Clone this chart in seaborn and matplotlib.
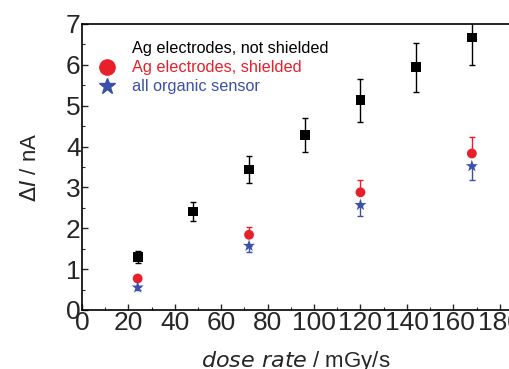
import matplotlib
matplotlib.use("Agg")
import matplotlib.pyplot as plt
import seaborn as sns
import pandas as pd
import numpy as np
from matplotlib.ticker import MultipleLocator
from matplotlib.lines import Line2D

sns.set_style("ticks")
plt.rcParams['font.family'] = ['Liberation Sans', 'DejaVu Sans']

dose_black = [24, 48, 72, 96, 120, 144, 168]
dI_black = [1.30, 2.41, 3.44, 4.28, 5.13, 5.94, 6.67]
err_black = [0.15, 0.24, 0.34, 0.42, 0.52, 0.60, 0.67]

dose_red = [24, 72, 120, 168]
dI_red = [0.77, 1.84, 2.88, 3.83]
err_red = [0.05, 0.18, 0.29, 0.40]

dose_blue = [24, 72, 120, 168]
dI_blue = [0.55, 1.57, 2.57, 3.52]
err_blue = [0.05, 0.16, 0.27, 0.35]

labels = ["Ag electrodes, not shielded", "Ag electrodes, shielded", "all organic sensor"]
c_black, c_red, c_blue = "#000000", "#e8202a", "#3b50a8"

fig = plt.figure(figsize=(5.09, 3.69), dpi=100)
ax = fig.add_axes([0.161, 0.160, 0.839, 0.775])

ax.errorbar(dose_black, dI_black, yerr=err_black, fmt='none', ecolor=c_black,
            elinewidth=1.0, capsize=2.5, capthick=1.0, zorder=2)
ax.errorbar(dose_red, dI_red, yerr=[np.zeros(len(err_red)), err_red], fmt='none',
            ecolor=c_red, elinewidth=1.0, capsize=2.5, capthick=1.0, zorder=2)
ax.errorbar(dose_blue, dI_blue, yerr=[err_blue, np.zeros(len(err_blue))], fmt='none',
            ecolor=c_blue, elinewidth=1.0, capsize=2.5, capthick=1.0, zorder=2)

sns.scatterplot(x=dose_black, y=dI_black, marker="s", color=c_black, s=50,
                edgecolor="none", ax=ax, zorder=3)
sns.scatterplot(x=dose_red, y=dI_red, marker="o", color=c_red, s=50,
                edgecolor="none", ax=ax, zorder=3)
sns.scatterplot(x=dose_blue, y=dI_blue, marker="*", color=c_blue, s=85,
                edgecolor="none", ax=ax, zorder=4)

ax.set_xlim(0, 184)
ax.set_ylim(0, 7)
ax.xaxis.set_major_locator(MultipleLocator(20))
ax.xaxis.set_minor_locator(MultipleLocator(10))
ax.yaxis.set_major_locator(MultipleLocator(1))
ax.yaxis.set_minor_locator(MultipleLocator(0.5))
ax.tick_params(which='both', direction='in', top=False, right=False, labelsize=19, pad=1)
ax.tick_params(which='major', length=4, width=1)
ax.tick_params(which='minor', length=2.5, width=0.8)
for sp in ['left', 'bottom', 'top']:
    ax.spines[sp].set_linewidth(1.2)
    ax.spines[sp].set_color('black')
ax.spines['right'].set_visible(False)

ax.set_xlabel(r"$\it{dose\ rate}$ / mGy/s", fontsize=16, labelpad=10)
ax.set_ylabel(r"$\it{\Delta I}$ / nA", fontsize=16, labelpad=18)

handles = [
    Line2D([], [], marker='s', linestyle='none', color=c_black, markersize=0, alpha=0),
    Line2D([], [], marker='o', linestyle='none', color=c_red, markersize=11),
    Line2D([], [], marker='*', linestyle='none', color=c_blue, markersize=12),
]
leg = ax.legend(handles, labels, loc='upper left', bbox_to_anchor=(0.0, 0.985),
                frameon=False, fontsize=11.7, handletextpad=0.8, labelspacing=0.25,
                handlelength=1.5, borderaxespad=0.4)
for t, c in zip(leg.get_texts(), [c_black, c_red, c_blue]):
    t.set_color(c)

fig.savefig("out.png", dpi=100)
